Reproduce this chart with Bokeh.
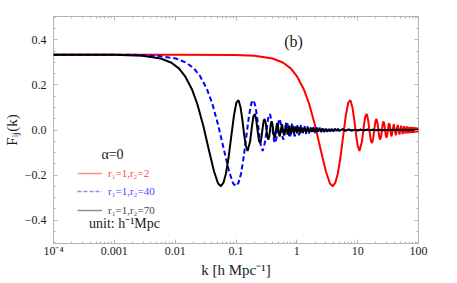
from bokeh.plotting import figure
from bokeh.models import (FixedTicker, CustomJSTickFormatter, LinearAxis, LogAxis,
                          Label, Legend, LegendItem)
from bokeh.embed import file_html
from bokeh.resources import INLINE

# ---------------- data ----------------
red_k = [1e-4, 0.01, 0.1, 0.2, 0.4, 0.6, 0.8, 1.0, 1.3, 1.6,
         2.0, 2.5, 3.0, 3.5, 3.9, 4.3, 4.7, 5.2, 5.8, 6.4,
         7.0, 7.6, 8.2, 8.8, 9.4, 10.0, 10.7, 11.78, 12.57, 13.35,
         14.14, 14.92, 15.71, 16.49, 17.28, 18.06, 18.85, 19.63, 20.42, 21.21,
         21.99, 22.78, 23.56, 24.35, 25.13, 25.92, 26.70, 27.49, 28.27, 29.06,
         29.85, 30.63, 31.42, 32.20, 32.99, 33.77, 34.56, 35.34, 36.13, 37.70,
         39.27, 40.84, 42.41, 43.98, 45.55, 47.12, 48.69, 50.27, 51.84, 53.41,
         54.98, 56.55, 58.12, 59.69, 61.26, 64.40, 67.54, 70.69, 73.83, 76.97,
         80.11, 83.25, 86.39, 89.54, 92.68, 95.82, 98.96, 100.0]
red_F = [0.3333, 0.3333, 0.3323, 0.329, 0.317, 0.298, 0.272, 0.239, 0.181, 0.114,
         0.019, -0.094, -0.183, -0.237, -0.249, -0.233, -0.195, -0.123, -0.023, 0.066,
         0.121, 0.132, 0.101, 0.044, -0.020, -0.070, -0.093, -0.050, 0.013, 0.061,
         0.071, 0.041, -0.008, -0.048, -0.058, -0.035, 0.006, 0.040, 0.049, 0.030,
         -0.004, -0.034, -0.042, -0.027, 0.003, 0.029, 0.038, 0.024, -0.003, -0.026,
         -0.034, -0.022, 0.002, 0.023, 0.030, 0.020, -0.002, -0.021, -0.028, 0.001,
         0.0255, -0.001, -0.0236, 0.001, 0.022, -0.001, -0.0205, 0.001, 0.0193, -0.001,
         -0.0182, 0.001, 0.0172, -0.001, -0.0163, 0.0155, -0.0148, 0.0141, -0.0135, 0.013,
         -0.0125, 0.012, -0.0116, 0.0112, -0.0108, 0.0104, -0.0101, 0.0]

blue_k = [1e-4, 0.002,
          0.00513, 0.01026, 0.01538, 0.02051, 0.02564, 0.03333, 0.04103, 0.05128, 0.0641, 0.07692,
          0.08974, 0.1, 0.1103, 0.1205, 0.1333, 0.1487, 0.1641, 0.1795, 0.1949, 0.2103,
          0.2256, 0.2410, 0.2564, 0.2744, 0.3021, 0.3223, 0.3423, 0.3626, 0.3826, 0.4028,
          0.4228, 0.4431, 0.4631, 0.4833, 0.5033, 0.5236, 0.5438, 0.5638, 0.5841, 0.6041,
          0.6244, 0.6444, 0.6646, 0.6846, 0.7049, 0.7249, 0.7451, 0.7654, 0.7854, 0.8056,
          0.8256, 0.8459, 0.8659, 0.8862, 0.9062, 0.9264,
          1.0069, 1.0874, 1.168, 1.2485, 1.3292, 1.4097,
          1.493, 1.582, 1.676, 1.775, 1.880, 1.992, 2.110, 2.235, 2.367, 2.508,
          2.656, 2.814, 2.981, 3.158, 3.345, 3.543, 3.753, 3.976, 4.212, 4.461,
          4.726, 5.006,
          5.617, 6.302, 7.071, 7.934, 8.902, 9.988, 11.21, 12.58, 14.11, 15.83,
          17.76, 19.93, 22.36, 25.09, 28.15, 31.59, 35.44, 39.77, 44.62, 50.06,
          56.17, 63.03, 70.72, 79.35, 89.03, 100.0]
blue_F = [0.3333, 0.3333,
          0.329, 0.317, 0.298, 0.272, 0.239, 0.181, 0.114, 0.019, -0.094, -0.183,
          -0.237, -0.249, -0.233, -0.195, -0.123, -0.023, 0.066, 0.121, 0.132, 0.101,
          0.044, -0.020, -0.070, -0.093, -0.050, 0.013, 0.061, 0.071, 0.041, -0.008,
          -0.048, -0.058, -0.035, 0.006, 0.040, 0.049, 0.030, -0.004, -0.034, -0.042,
          -0.027, 0.003, 0.029, 0.038, 0.024, -0.003, -0.026, -0.034, -0.022, 0.002,
          0.023, 0.030, 0.020, -0.002, -0.021, -0.028,
          0.0255, -0.0236, 0.022, -0.0205, 0.0193, -0.0182,
          0.0172, -0.0162, 0.0153, -0.0144, 0.0136, -0.0129, 0.0122, -0.0115, 0.0108, -0.0102,
          0.0097, -0.0091, 0.0086, -0.0081, 0.0077, -0.0072, 0.0068, -0.0064, 0.0061, -0.0057,
          0.0054, -0.0051,
          0.0046, -0.0041, 0.0036, -0.0032, 0.0029, -0.0026, 0.0023, -0.0020, 0.0018, -0.0016,
          0.0014, -0.0013, 0.0011, -0.0010, 0.0009, -0.0008, 0.0007, -0.0006, 0.0006, -0.0005,
          0.0005, -0.0004, 0.0004, -0.0003, 0.0003, 0.0]

black_k = [1e-4, 0.001,
           0.0029, 0.0058, 0.0087, 0.0116, 0.01449, 0.01884, 0.02319, 0.02899, 0.03623, 0.04348,
           0.05072, 0.05652, 0.06232, 0.06812, 0.07536, 0.08406, 0.09275, 0.1014, 0.1101, 0.1188,
           0.1275, 0.1362, 0.1449, 0.1551, 0.1707, 0.1822, 0.1935, 0.2049, 0.2162, 0.2277,
           0.2390, 0.2504, 0.2617, 0.2732, 0.2845, 0.2959, 0.3074, 0.3187, 0.3301, 0.3414,
           0.3529, 0.3642, 0.3757, 0.3870, 0.3984, 0.4097, 0.4212, 0.4326, 0.4439, 0.4554,
           0.4667, 0.4781, 0.4894, 0.5009, 0.5122, 0.5236,
           0.5691, 0.6146, 0.6601, 0.7057, 0.7513, 0.7968,
           0.844, 0.894, 0.947, 1.003, 1.063, 1.126, 1.192, 1.263, 1.338, 1.417,
           1.501, 1.590, 1.685, 1.784, 1.890, 2.002, 2.121, 2.247, 2.380, 2.521,
           2.671, 2.829, 2.997, 3.175, 3.363, 3.562, 3.774, 3.997, 4.234, 4.485,
           4.751, 5.033,
           5.65, 6.34, 7.11, 7.98, 8.95, 10.04, 11.27, 12.64, 14.19, 15.92,
           17.86, 20.04, 22.5, 25.2, 28.3, 31.8, 35.6, 40.0, 44.9, 50.4,
           56.5, 63.4, 71.2, 79.9, 89.6, 100.0]
black_F = [0.3333, 0.3330,
           0.329, 0.317, 0.298, 0.272, 0.239, 0.181, 0.114, 0.019, -0.094, -0.183,
           -0.237, -0.249, -0.233, -0.195, -0.123, -0.023, 0.066, 0.121, 0.132, 0.101,
           0.044, -0.020, -0.070, -0.093, -0.050, 0.013, 0.061, 0.071, 0.041, -0.008,
           -0.048, -0.058, -0.035, 0.006, 0.040, 0.049, 0.030, -0.004, -0.034, -0.042,
           -0.027, 0.003, 0.029, 0.038, 0.024, -0.003, -0.026, -0.034, -0.022, 0.002,
           0.023, 0.030, 0.020, -0.002, -0.021, -0.028,
           0.0255, -0.0236, 0.022, -0.0205, 0.0193, -0.0182,
           0.0172, -0.0162, 0.0153, -0.0144, 0.0136, -0.0129, 0.0122, -0.0115, 0.0108, -0.0102,
           0.0097, -0.0091, 0.0086, -0.0081, 0.0077, -0.0072, 0.0068, -0.0064, 0.0061, -0.0057,
           0.0054, -0.0051, 0.0048, -0.0046, 0.0043, -0.0041, 0.0038, -0.0036, 0.0034, -0.0032,
           0.0031, -0.0029,
           0.0026, -0.0023, 0.0020, -0.0018, 0.0016, -0.0014, 0.0013, -0.0011, 0.0010, -0.0009,
           0.0008, -0.0007, 0.0006, -0.0006, 0.0005, -0.0005, 0.0004, -0.0004, 0.0003, -0.0003,
           0.0003, -0.0002, 0.0002, -0.0002, 0.0002, 0.0]

series_labels = ["r\u2081=1,r\u2082=2", "r\u2081=1,r\u2082=40", "r\u2081=1,r\u2082=70"]

x_major = [1e-4, 1e-3, 1e-2, 1e-1, 1.0, 10.0, 100.0]
y_major = [-0.4, -0.2, 0.0, 0.2, 0.4]

# ---------------- figure ----------------
SERIF = "Liberation Serif, Times New Roman, serif"
FRAME = "#b4b4b4"
TXT = "#1a1a1a"

p = figure(width=457, height=283, x_axis_type="log",
           x_range=(1e-4, 100), y_range=(-0.503, 0.503),
           output_backend="svg", toolbar_location=None,
           min_border_left=51, min_border_right=39,
           min_border_top=16, min_border_bottom=40)
p.grid.visible = False
p.outline_line_color = FRAME
p.outline_line_width = 1

x_minor = [m * 10.0 ** e for e in range(-4, 2) for m in range(2, 10)]
y_minor = [round(-0.5 + 0.05 * i, 2) for i in range(21)]

xticker = FixedTicker(ticks=x_major, minor_ticks=x_minor)
yticker = FixedTicker(ticks=y_major, minor_ticks=y_minor)

xfmt = CustomJSTickFormatter(code="""
if (tick < 0.0005) { return '10\u207b\u2074'; }
if (tick >= 1) { return tick.toFixed(0); }
return String(parseFloat(tick.toPrecision(3)));
""")
yfmt = CustomJSTickFormatter(code="""
return tick.toFixed(1).replace('-', '\u2212');
""")
blank = CustomJSTickFormatter(code="return '';")


def style_axis(ax):
    ax.axis_line_color = None
    ax.major_tick_in = 4
    ax.major_tick_out = 0
    ax.minor_tick_in = 2
    ax.minor_tick_out = 0
    ax.major_tick_line_color = FRAME
    ax.minor_tick_line_color = FRAME
    ax.major_label_text_font = SERIF
    ax.major_label_text_font_size = "12px"
    ax.major_label_text_color = TXT
    ax.axis_label_text_font = SERIF
    ax.axis_label_text_font_size = "15px"
    ax.axis_label_text_font_style = "normal"
    ax.axis_label_text_color = TXT


xa = p.xaxis[0]
xa.ticker = xticker
xa.formatter = xfmt
style_axis(xa)
xa.major_label_standoff = 0
xa.axis_label = "k [h Mpc\u207b\u00b9]"
xa.axis_label_standoff = 1

ya = p.yaxis[0]
ya.ticker = yticker
ya.formatter = yfmt
style_axis(ya)
ya.major_label_standoff = 7
ya.axis_label = "F\u1d62\u2c7c(k)"
ya.axis_label_standoff = 2

top = LogAxis(ticker=xticker, formatter=blank)
style_axis(top)
top.major_label_standoff = 0
p.add_layout(top, "above")

right = LinearAxis(ticker=yticker, formatter=blank)
style_axis(right)
right.major_label_standoff = 0
p.add_layout(right, "right")

# ---------------- curves ----------------
p.line(red_k, red_F, line_color="#ff0000", line_width=2)
p.line(blue_k, blue_F, line_color="#0000ff", line_width=2, line_dash="5 3")
p.line(black_k, black_F, line_color="#000000", line_width=2)

# ---------------- legend ----------------
leg_line_colors = ["#ff8c8c", "#8c8cff", "#8c8c8c"]
leg_text_colors = ["#ff4a4a", "#4a4aff", "#444444"]
leg_dash = ["solid", "4 2", "solid"]
leg_y = [64, 46, 27]
for lab, lc, tc, ld, ly in zip(series_labels, leg_line_colors, leg_text_colors, leg_dash, leg_y):
    dummy = p.line(x=[1.0], y=[float("nan")], line_color=lc, line_width=1.5, line_dash=ld)
    leg = Legend(items=[LegendItem(label=lab, renderers=[dummy])],
                 location=(24, ly), padding=0, margin=0, spacing=0,
                 border_line_alpha=0, background_fill_alpha=0,
                 glyph_width=25, glyph_height=10, label_height=10,
                 label_standoff=6, label_text_font=SERIF,
                 label_text_font_size="11px", label_text_color=tc)
    p.add_layout(leg)

p.add_layout(Label(x=59, y=89, x_units="screen", y_units="screen", text="\u03b1=0",
                   text_font=SERIF, text_font_size="14px", text_align="center",
                   text_baseline="middle", text_color=TXT))
p.add_layout(Label(x=71, y=20, x_units="screen", y_units="screen",
                   text="unit: h\u207b\u00b9Mpc",
                   text_font=SERIF, text_font_size="14px", text_align="center",
                   text_baseline="middle", text_color=TXT))
p.add_layout(Label(x=240, y=202, x_units="screen", y_units="screen", text="(b)",
                   text_font=SERIF, text_font_size="16px", text_align="center",
                   text_baseline="middle", text_color=TXT))

open("out.html", "w").write(file_html(p, INLINE))
